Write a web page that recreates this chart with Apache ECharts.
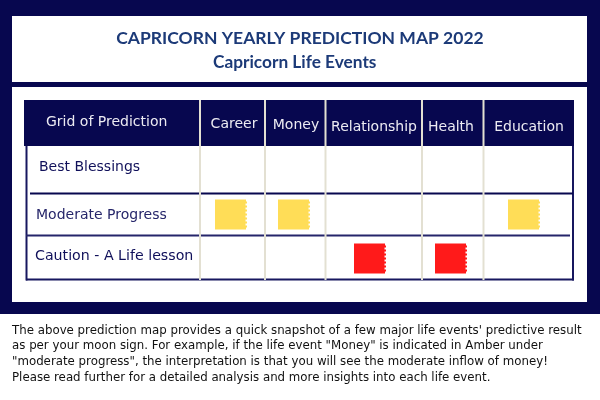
<!DOCTYPE html>
<html>
<head>
<meta charset="UTF-8">
<title>Capricorn Yearly Prediction Map 2022</title>
<script src="https://cdn.jsdelivr.net/npm/echarts@6/dist/echarts.min.js"></script>
<style>
html, body { margin: 0; padding: 0; background: #fff; }
#chart { width: 600px; height: 400px; }
</style>
</head>
<body>
<div id="chart"></div>
<script>
// chart data
var events = ['Career', 'Money', 'Relationship', 'Health', 'Education'];
var levels = ['Best Blessings', 'Moderate Progress', 'Caution - A Life lesson'];
var outcomes = ['Moderate Progress', 'Moderate Progress', 'Caution - A Life lesson', 'Caution - A Life lesson', 'Moderate Progress'];
var headerTitle = 'Grid of Prediction';
var note = [
  'The above prediction map provides a quick snapshot of a few major life events\' predictive result',
  'as per your moon sign. For example, if the life event "Money" is indicated in Amber under',
  '"moderate progress", the interpretation is that you will see the moderate inflow of money!',
  'Please read further for a detailed analysis and more insights into each life event.'
];

// layout of the table, one small grid per column because the columns differ in width
var colCenters = [231, 294, 370, 451, 524];
var labelShift = [6, 4, 8, 0, 10];
var labelMargin = [19, 18, 16, 16, 16];
var separators = [200, 265, 325.5, 422, 483.5];
var navy = '#07074f';
var font = '"DejaVu Sans", Verdana, sans-serif';
var levelColors = { 'Moderate Progress': '#ffdd57', 'Caution - A Life lesson': '#ff1a1a' };
var levelOffset = { 'Moderate Progress': [0, 0], 'Caution - A Life lesson': [0, 1] };
var tornRect = 'path://M0 0H31.5V2H32.5V4H31V6H32.5V8H31V10H32.5V12H31V14H32.5V16H31V18H32.5V20H31V22H32.5V24H31V26H32.5V28H31.5V30H0Z';

var grids = [], xAxes = [], yAxes = [], series = [];
events.forEach(function (name, i) {
  grids.push({ left: colCenters[i] - 30, width: 60, top: 150, height: 129 });
  xAxes.push({
    type: 'category', gridIndex: i, data: [name], position: 'top',
    axisLine: { show: false }, axisTick: { show: false },
    axisLabel: {
      interval: 0, color: '#ecebf2', fontFamily: font, fontSize: 14,
      margin: labelMargin[i], padding: [0, 0, 0, labelShift[i]]
    }
  });
  yAxes.push({
    type: 'category', gridIndex: i, data: levels, inverse: true,
    axisLine: { show: false }, axisTick: { show: false },
    axisLabel: i === 0 ? {
      show: true, interval: 0, align: 'left', margin: 166, fontFamily: font, fontSize: 14,
      formatter: function (v, idx) { return '{r' + idx + '|' + v + '}'; },
      rich: {
        r0: { color: '#10105a', fontFamily: font, fontSize: 14, padding: [0, 0, 9, 4] },
        r1: { color: '#26266a', fontFamily: font, fontSize: 14, padding: [1, 0, 0, 1] },
        r2: { color: '#10105a', fontFamily: font, fontSize: 14.2, padding: [0, 0, 3, 0] }
      }
    } : { show: false }
  });
  series.push({
    type: 'scatter', xAxisIndex: i, yAxisIndex: i, silent: true,
    symbol: tornRect, symbolSize: [32, 30], symbolOffset: levelOffset[outcomes[i]],
    itemStyle: { color: levelColors[outcomes[i]], opacity: 1 },
    data: [[name, outcomes[i]]]
  });
});

function hline(x1, x2, y, color) {
  return { type: 'line', z: -1, shape: { x1: x1, y1: y, x2: x2, y2: y }, style: { stroke: color, lineWidth: 2 } };
}
function vline(x, y1, y2, color) {
  return { type: 'line', z: -1, shape: { x1: x, y1: y1, x2: x, y2: y2 }, style: { stroke: color, lineWidth: 2 } };
}

var chrome = [
  { type: 'rect', z: -3, shape: { x: 0, y: 0, width: 600, height: 314 }, style: { fill: navy } },
  { type: 'rect', z: -2, shape: { x: 12, y: 16, width: 575, height: 66 }, style: { fill: '#fff' } },
  { type: 'rect', z: -2, shape: { x: 12, y: 87, width: 575, height: 215 }, style: { fill: '#fff' } },
  { type: 'rect', z: -1, shape: { x: 24, y: 100, width: 550, height: 46 }, style: { fill: navy } },
  vline(26.5, 146, 280.5, '#17175f'),
  vline(573, 146, 280.5, '#17175f'),
  hline(30, 573, 193.5, navy),
  hline(26, 570, 235.5, '#25256a'),
  hline(26, 574, 279.5, '#17175f')
];
separators.forEach(function (x) {
  chrome.push(vline(x, 100, 280, '#e3e0d2'));
});
chrome.push({
  type: 'text', z: 1, x: 46, y: 115,
  style: { text: headerTitle, fill: '#ecebf2', font: '14px ' + font }
});
note.forEach(function (line, i) {
  chrome.push({
    type: 'text', z: 1, x: 12, y: 324.5 + i * 15.8,
    style: { text: line, fill: '#111', font: '11.8px ' + font }
  });
});

var chart = echarts.init(document.getElementById('chart'));
chart.setOption({
  animation: false,
  backgroundColor: '#fff',
  title: [
    { text: 'CAPRICORN YEARLY PREDICTION MAP 2022', left: 'center', top: 24,
      textStyle: { fontFamily: 'Lato', fontWeight: 'bold', fontSize: 17.5, color: '#1c3a78' } },
    { text: 'Capricorn Life Events', left: 208, top: 48.5,
      textStyle: { fontFamily: 'Lato', fontWeight: 'bold', fontSize: 17.3, color: '#1c3a78' } }
  ],
  grid: grids,
  xAxis: xAxes,
  yAxis: yAxes,
  series: series,
  graphic: chrome
});
</script>
</body>
</html>
